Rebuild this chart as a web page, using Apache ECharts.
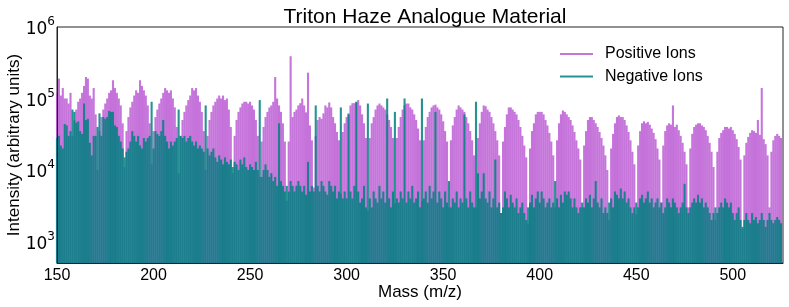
<!DOCTYPE html>
<html><head><meta charset="utf-8">
<script src="https://cdn.jsdelivr.net/npm/echarts@6/dist/echarts.min.js"></script>
<style>html,body{margin:0;padding:0;background:#fff}#c{width:789px;height:307px}</style>
</head><body><div id="c"></div>
<script>
// integer masses 150..525 (m/z)
const massFirst = 150, massLast = 525;
const masses = [];
for (let m = massFirst; m <= massLast; m++) masses.push(m);

// Positive ions intensity, one value per mass 150..525
const positiveIons = [
 1.2e5,1.9e5,1.1e5,1.4e5,1.0e5,1.0e5,8.5e4,1.2e5,
 3.0e4,5.0e4,7.0e4,9.0e4,1.0e5,1.2e5,1.5e5,2.0e5,1.9e5,1.1e5,1.0e5,1.4e5,6.0e4,
 1.0e4,3.5e4,5.5e4,7.0e4,8.5e4,1.0e5,1.2e5,1.3e5,1.8e5,1.4e5,1.2e5,1.0e5,8.0e4,4.5e4,
 1.1e4,3.5e4,5.5e4,7.5e4,9.0e4,1.1e5,1.3e5,1.2e5,1.8e5,1.5e5,1.3e5,1.1e5,8.0e4,4.5e4,
 1.2e4,3.5e4,5.5e4,7.0e4,8.5e4,1.0e5,1.2e5,1.4e5,1.3e5,1.2e5,1.3e5,1.0e5,7.5e4,4.0e4,
 9.0e3,3.0e4,5.0e4,6.5e4,8.0e4,9.5e4,1.1e5,1.4e5,1.3e5,1.4e5,1.1e5,9.0e4,6.5e4,3.5e4,
 1.0e4,3.0e4,5.0e4,6.5e4,8.0e4,9.0e4,1.0e5,1.1e5,1.0e5,1.1e5,9.5e4,1.0e5,7.0e4,4.0e4,
 9.0e3,3.0e4,5.0e4,6.5e4,7.5e4,8.5e4,9.0e4,9.0e4,8.5e4,9.0e4,8.0e4,7.0e4,5.0e4,3.0e4,
 8.0e3,2.5e4,4.0e4,5.5e4,6.5e4,7.5e4,8.0e4,9.0e4,2.0e5,1.0e5,8.0e4,6.5e4,4.5e4,2.5e4,
 3.7e3,2.5e4,3.9e5,5.5e4,6.5e4,7.0e4,8.0e4,8.6e4,1.0e5,8.0e4,6.4e4,2.3e5,4.2e4,2.6e4,
 5.7e3,3.0e4,5.0e4,5.5e4,5.2e4,6.2e4,8.0e4,7.5e4,8.8e4,7.5e4,5.5e4,4.5e4,3.4e4,2.6e4,
 4.7e3,3.4e4,4.5e4,5.5e4,6.2e4,8.0e4,8.6e4,8.6e4,8.8e4,9.5e4,8.0e4,6.0e4,4.5e4,2.8e4,
 2.7e3,2.8e4,4.5e4,5.5e4,7.0e4,8.0e4,8.5e4,8.0e4,7.5e4,7.0e4,6.0e4,5.0e4,4.0e4,2.8e4,
 3.4e3,2.8e4,4.0e4,5.5e4,7.0e4,8.0e4,8.5e4,8.5e4,7.5e4,7.0e4,6.0e4,5.0e4,3.8e4,2.6e4,
 3.7e3,2.6e4,4.0e4,5.5e4,6.5e4,7.5e4,8.0e4,8.2e4,7.5e4,7.0e4,6.0e4,4.8e4,3.5e4,2.5e4,
 3.0e3,2.6e4,4.2e4,5.5e4,7.0e4,8.0e4,7.5e4,7.0e4,6.5e4,5.5e4,4.5e4,3.5e4,2.6e4,1.6e4,
 3.0e3,2.8e4,4.5e4,6.5e4,8.0e4,7.8e4,7.0e4,6.5e4,5.5e4,4.5e4,3.5e4,2.6e4,1.6e4,
 2.5e3,2.5e4,4.0e4,6.0e4,7.5e4,7.5e4,7.0e4,6.5e4,6.0e4,5.0e4,4.0e4,3.0e4,2.2e4,1.5e4,
 1.8e3,2.0e4,3.5e4,4.5e4,6.0e4,6.5e4,6.5e4,6.5e4,6.0e4,5.0e4,4.2e4,3.3e4,2.5e4,1.6e4,
 3.0e3,2.6e4,4.5e4,6.0e4,6.8e4,6.5e4,6.0e4,5.5e4,5.0e4,4.2e4,3.4e4,2.6e4,2.0e4,1.4e4,
 3.0e3,2.2e4,3.5e4,5.0e4,5.5e4,5.5e4,5.0e4,4.5e4,4.0e4,3.4e4,2.8e4,2.2e4,1.6e4,1.0e4,
 2.0e3,2.0e4,3.2e4,4.5e4,5.5e4,5.8e4,5.5e4,5.5e4,5.0e4,4.2e4,3.4e4,2.6e4,1.8e4,1.2e4,
 2.4e3,2.2e4,3.5e4,4.5e4,4.8e4,4.5e4,4.7e4,4.3e4,3.8e4,3.3e4,2.7e4,2.0e4,1.4e4,
 3.5e3,2.2e4,3.5e4,4.2e4,4.5e4,4.3e4,8.0e4,4.0e4,4.3e4,3.6e4,3.0e4,2.4e4,1.8e4,1.2e4,
 3.0e3,2.0e4,3.2e4,4.0e4,4.3e4,4.5e4,4.5e4,4.2e4,4.0e4,3.6e4,3.0e4,2.4e4,1.8e4,1.1e4,
 2.0e3,1.8e4,2.8e4,3.3e4,3.6e4,4.0e4,4.0e4,3.8e4,4.0e4,3.6e4,3.2e4,2.7e4,2.1e4,1.4e4,
 1.5e3,1.6e4,2.4e4,2.9e4,3.3e4,3.6e4,3.5e4,3.3e4,5.0e4,3.1e4,1.4e5,2.7e4,2.3e4,1.6e4,
 3.0e3,1.8e4,2.6e4,3.0e4,3.2e4,3.0e4,2.8e4
];

// Negative ions intensity, one value per mass 150..525
const negativeIons = [
 2.8e4,3.0e4,2.2e4,2.0e4,4.4e4,4.2e4,3.0e4,3.5e4,7.0e4,6.5e4,
 4.6e4,4.8e4,3.5e4,3.2e4,8.5e4,5.0e4,5.2e4,2.4e4,1.6e4,3.0e4,
 3.0e4,4.0e4,6.2e4,3.0e4,5.5e4,5.2e4,5.5e4,6.7e4,6.5e4,6.5e4,
 4.2e4,4.0e4,3.0e4,2.5e4,2.0e4,1.5e4,1.8e4,2.0e4,2.5e4,3.5e4,
 3.0e4,2.5e4,3.0e4,2.2e4,2.0e4,2.8e4,2.5e4,2.8e4,3.0e4,9.0e4,
 2.0e4,3.5e4,3.2e4,3.0e4,3.5e4,5.0e4,3.0e4,2.5e4,2.0e4,2.5e4,
 2.2e4,2.5e4,2.8e4,7.0e4,3.0e4,2.8e4,3.0e4,2.5e4,2.8e4,3.0e4,
 2.5e4,2.2e4,2.5e4,2.0e4,2.2e4,2.0e4,1.8e4,8.0e4,2.0e4,1.6e4,
 1.8e4,2.0e4,1.5e4,1.3e4,1.6e4,1.4e4,1.2e4,1.5e4,1.3e4,1.2e4,
 1.4e4,1.1e4,1.3e4,1.2e4,1.0e4,1.4e4,1.2e4,1.5e4,1.1e4,1.0e4,
 1.2e4,1.1e4,1.0e4,1.3e4,1.0e4,9.5e4,8.0e3,1.0e4,1.2e4,1.0e4,
 8.0e3,9.0e3,7.0e3,8.0e3,6.0e3,4.5e4,7.0e3,6.0e3,5.0e3,6.0e3,
 5.0e3,7.0e3,6.0e3,5.0e3,6.0e3,7.0e3,6.0e3,5.0e3,6.0e3,4.5e3,
 1.3e4,5.0e3,6.0e3,5.0e3,8.0e4,6.0e3,5.0e3,7.0e3,6.0e3,5.0e3,
 4.5e3,7.0e3,6.0e3,5.0e3,6.0e3,4.0e3,5.0e3,7.5e4,4.0e3,5.0e3,
 4.0e3,6.0e4,5.0e3,4.0e3,6.0e3,9.0e4,5.0e3,3.5e3,4.0e3,6.0e3,
 3.0e3,8.5e4,4.0e3,3.0e3,5.0e3,4.0e3,3.5e3,6.0e3,4.0e3,5.0e3,
 3.5e3,1.0e5,4.0e3,3.0e3,5.0e3,6.5e4,4.0e3,3.5e3,5.0e3,4.0e3,
 1.0e5,3.5e3,5.0e3,4.0e3,6.0e3,3.5e3,4.0e3,5.0e3,3.0e3,1.0e5,
 4.0e3,5.0e3,3.5e3,6.0e3,4.0e3,5.0e3,6.5e4,3.5e3,5.0e3,4.0e3,
 3.0e3,5.0e3,3.5e3,7.0e3,3.0e3,4.0e3,3.5e3,5.0e3,3.0e3,4.0e3,
 3.5e3,6.0e4,4.0e3,3.0e3,5.0e3,3.5e3,3.0e3,9.0e4,9.0e3,4.0e3,
 5.0e3,9.0e3,4.0e3,3.5e3,5.0e3,3.0e3,4.0e3,1.4e4,3.0e3,3.5e3,
 2.5e3,3.0e3,5.0e3,4.0e3,3.0e3,4.5e3,3.5e3,3.0e3,4.0e3,2.5e3,
 3.0e3,3.5e3,2.5e3,2.0e3,3.0e3,3.5e3,4.5e3,3.0e3,4.0e3,5.0e3,
 3.5e3,5.0e3,4.0e3,3.0e3,3.5e3,4.0e3,3.0e3,3.5e3,7.0e3,4.0e3,
 3.0e3,4.5e3,3.5e3,5.0e3,4.5e3,5.0e3,4.0e3,3.0e3,4.0e3,3.0e3,
 2.5e3,3.0e3,3.5e3,3.0e3,4.0e3,3.5e3,4.5e3,3.0e3,4.0e3,7.0e3,
 3.5e3,3.0e3,4.0e3,2.5e3,3.0e3,2.5e3,3.5e3,4.0e3,3.0e3,5.0e3,
 4.5e3,4.0e3,5.5e3,4.0e3,5.0e3,3.5e3,4.0e3,3.0e3,2.5e3,3.0e3,
 3.5e3,3.0e3,4.0e3,4.5e3,3.5e3,4.0e3,5.0e3,3.5e3,4.0e3,3.0e3,
 3.5e3,4.0e3,3.0e3,3.5e3,2.5e3,3.0e3,4.0e3,3.5e3,3.0e3,4.0e3,
 3.5e3,3.0e3,2.5e3,3.0e3,3.5e3,6.4e3,3.0e3,2.5e3,3.0e3,3.5e3,
 4.0e3,3.5e3,4.5e3,3.5e3,4.0e3,3.0e3,3.5e3,3.0e3,2.5e3,2.0e3,
 2.5e3,3.0e3,2.5e3,3.0e3,3.5e3,3.0e3,4.0e3,3.5e3,3.0e3,3.5e3,
 2.5e3,2.0e3,2.5e3,3.0e3,2.0e3,1.6e3,2.0e3,2.5e3,2.0e3,1.8e3,
 2.5e3,2.0e3,2.2e3,1.8e3,2.0e3,2.5e3,2.0e3,1.6e3,2.0e3,2.5e3,
 2.0e3,1.8e3,2.0e3,2.2e3,2.0e3,1.8e3
];

const xTicks = [150, 200, 250, 300, 350, 400, 450, 500];
const yTickPowers = [3, 4, 5, 6];
const seriesNames = ['Positive Ions', 'Negative Ions'];

const font = "'Liberation Sans', Arial, Helvetica, sans-serif";
const mathFont = "'DejaVu Sans', sans-serif";
const chart = echarts.init(document.getElementById('c'), null, {renderer: 'canvas'});
chart.setOption({
  animation: false,
  textStyle: {fontFamily: font, color: '#000'},
  title: {
    text: 'Triton Haze Analogue Material',
    left: 420, top: 2, textAlign: 'center',
    textStyle: {fontFamily: font, fontSize: 21, fontWeight: 'normal', color: '#000'}
  },
  legend: {
    orient: 'vertical', left: 560, top: 46, padding: 0, itemGap: 6.5,
    icon: 'rect', itemWidth: 33, itemHeight: 2,
    textStyle: {fontFamily: font, fontSize: 16, color: '#000', padding: [0, 0, 0, 7]},
    data: seriesNames
  },
  grid: {left: 57, right: 6, top: 27, bottom: 44, outerBoundsMode: 'none', containLabel: false,
         show: true, borderColor: '#222', borderWidth: 1, backgroundColor: 'transparent'},
  xAxis: {
    type: 'value', min: 150, max: 526, interval: 50, z: 10,
    name: 'Mass (m/z)', nameLocation: 'middle', nameGap: 21, nameMoveOverlap: false,
    nameTextStyle: {fontFamily: font, fontSize: 17, color: '#000'},
    axisLine: {show: true, lineStyle: {color: '#222', width: 1}},
    axisTick: {show: false},
    splitLine: {show: false},
    axisLabel: {
      margin: 5, fontFamily: font, fontSize: 16, color: '#000',
      formatter: v => xTicks.indexOf(v) >= 0 ? String(v) : ''
    }
  },
  yAxis: {
    type: 'log', logBase: 10, min: 500, max: 1e6, z: 10,
    name: 'Intensity (arbitrary units)', nameLocation: 'middle', nameGap: 34, nameMoveOverlap: false,
    nameTextStyle: {fontFamily: font, fontSize: 17, color: '#000'},
    axisLine: {show: true, lineStyle: {color: '#222', width: 1}},
    axisTick: {show: false},
    splitLine: {show: false},
    axisLabel: {
      margin: 2,
      formatter: function (v) {
        const p = Math.log10(v);
        const r = Math.round(p);
        if (Math.abs(p - r) > 1e-6 || yTickPowers.indexOf(r) < 0) return '';
        return '{b|10}{s|' + r + '}';
      },
      rich: {
        b: {fontFamily: mathFont, fontSize: 17, color: '#000', padding: [6, 0, 0, 0]},
        s: {fontFamily: mathFont, fontSize: 12, color: '#000', padding: [0, 0, 10, 0]}
      }
    }
  },
  series: [
    {
      name: seriesNames[0], type: 'bar', barWidth: 2.1, barGap: '-100%', clip: true,
      itemStyle: {color: '#b852d2', opacity: 0.8},
      data: masses.map((m, i) => [m, positiveIons[i]])
    },
    {
      name: seriesNames[1], type: 'bar', barWidth: 2.1, barGap: '-100%', clip: true,
      itemStyle: {color: '#008080', opacity: 0.85},
      data: masses.map((m, i) => [m, negativeIons[i]])
    }
  ]
});
</script>
</body></html>
